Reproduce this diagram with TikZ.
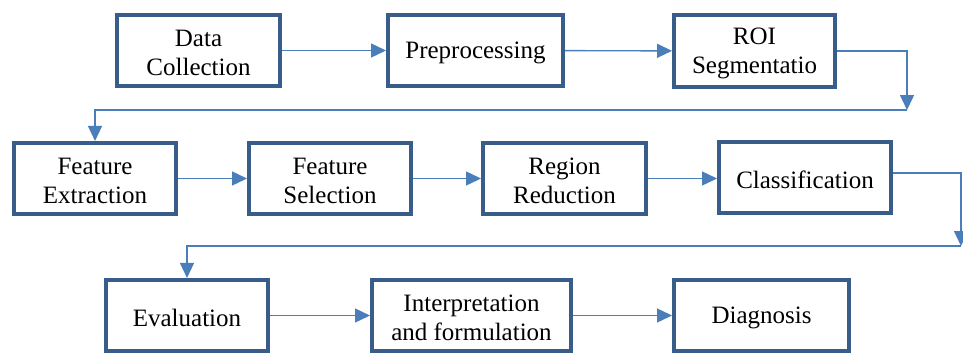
\documentclass[tikz,border=0pt]{standalone}
\usepackage{fontspec}
\setmainfont{Liberation Serif}
\newfontfamily\tnr{Liberation Serif}
\usetikzlibrary{arrows.meta}
\definecolor{boxblue}{HTML}{385D8A}
\definecolor{arrblue}{HTML}{4A7EBB}
\begin{document}
\begin{tikzpicture}[x=1pt,y=-1pt,
  stepbox/.style={draw=boxblue,line width=3.6pt,fill=white,inner sep=0pt,
    minimum width=#1-3.6pt,minimum height=71.5pt},
  steptext/.style={inner sep=0pt,align=center,yshift=-2.5pt,
    font=\tnr\fontsize{25}{28.5}\selectfont},
  arr/.style={draw=arrblue,line width=1.4pt,-{Triangle[length=15pt,width=14pt]}}]
\useasboundingbox (0,0) rectangle (963,354);
% row 1
\node[stepbox=167pt] (dc) at (198.5,50.5) {};
\node[steptext] (dct) at (dc) {Data\\Collection};
\node[stepbox=179pt] (pp) at (475.5,50.5) {};
\node[steptext] (ppt) at (pp) {Preprocessing};
\node[stepbox=165pt] (roi) at (754.5,51) {};
\node[steptext] (roit) at (roi) {ROI\\Segmentatio};
% row 2
\node[stepbox=166pt] (fe) at (95,178.5) {};
\node[steptext] (fet) at (fe) {Feature\\Extraction};
\node[stepbox=166pt] (fs) at (330,178.5) {};
\node[steptext] (fst) at (fs) {Feature\\Selection};
\node[stepbox=167pt] (rr) at (564.5,178.5) {};
\node[steptext] (rrt) at (rr) {Region\\Reduction};
\node[stepbox=176pt] (cl) at (805,177.5) {};
\node[steptext] (clt) at (cl) {Classification};
% row 3
\node[stepbox=166pt] (ev) at (187,315.5) {};
\node[steptext] (evt) at (ev) {Evaluation};
\node[stepbox=203pt] (ip) at (471.5,315.5) {};
\node[steptext] (ipt) at (ip) {Interpretation\\and formulation};
\node[stepbox=179pt] (dg) at (761.5,315.5) {};
\node[steptext] (dgt) at (dg) {Diagnosis};
% connectors
\draw[arr] (dc) -- (pp);
\draw[arr] (pp) -- (roi);
\coordinate (c1) at (907,110);
\draw[arr] (roi.east) -| (c1);
\draw[arr] (c1) -| (fe.north);
\draw[arr] (fe) -- (fs);
\draw[arr] (fs) -- (rr);
\draw[arr] (rr.east) -- (cl.west |- rr.east);
\coordinate (c2a) at (961,173);
\coordinate (c2) at (961,246);
\draw[arr] (cl.east |- c2a) -- (c2a) -- (c2);
\draw[arr] (c2) -| (ev.north);
\draw[arr] (ev) -- (ip);
\draw[arr] (ip) -- (dg);
\end{tikzpicture}
\end{document}
